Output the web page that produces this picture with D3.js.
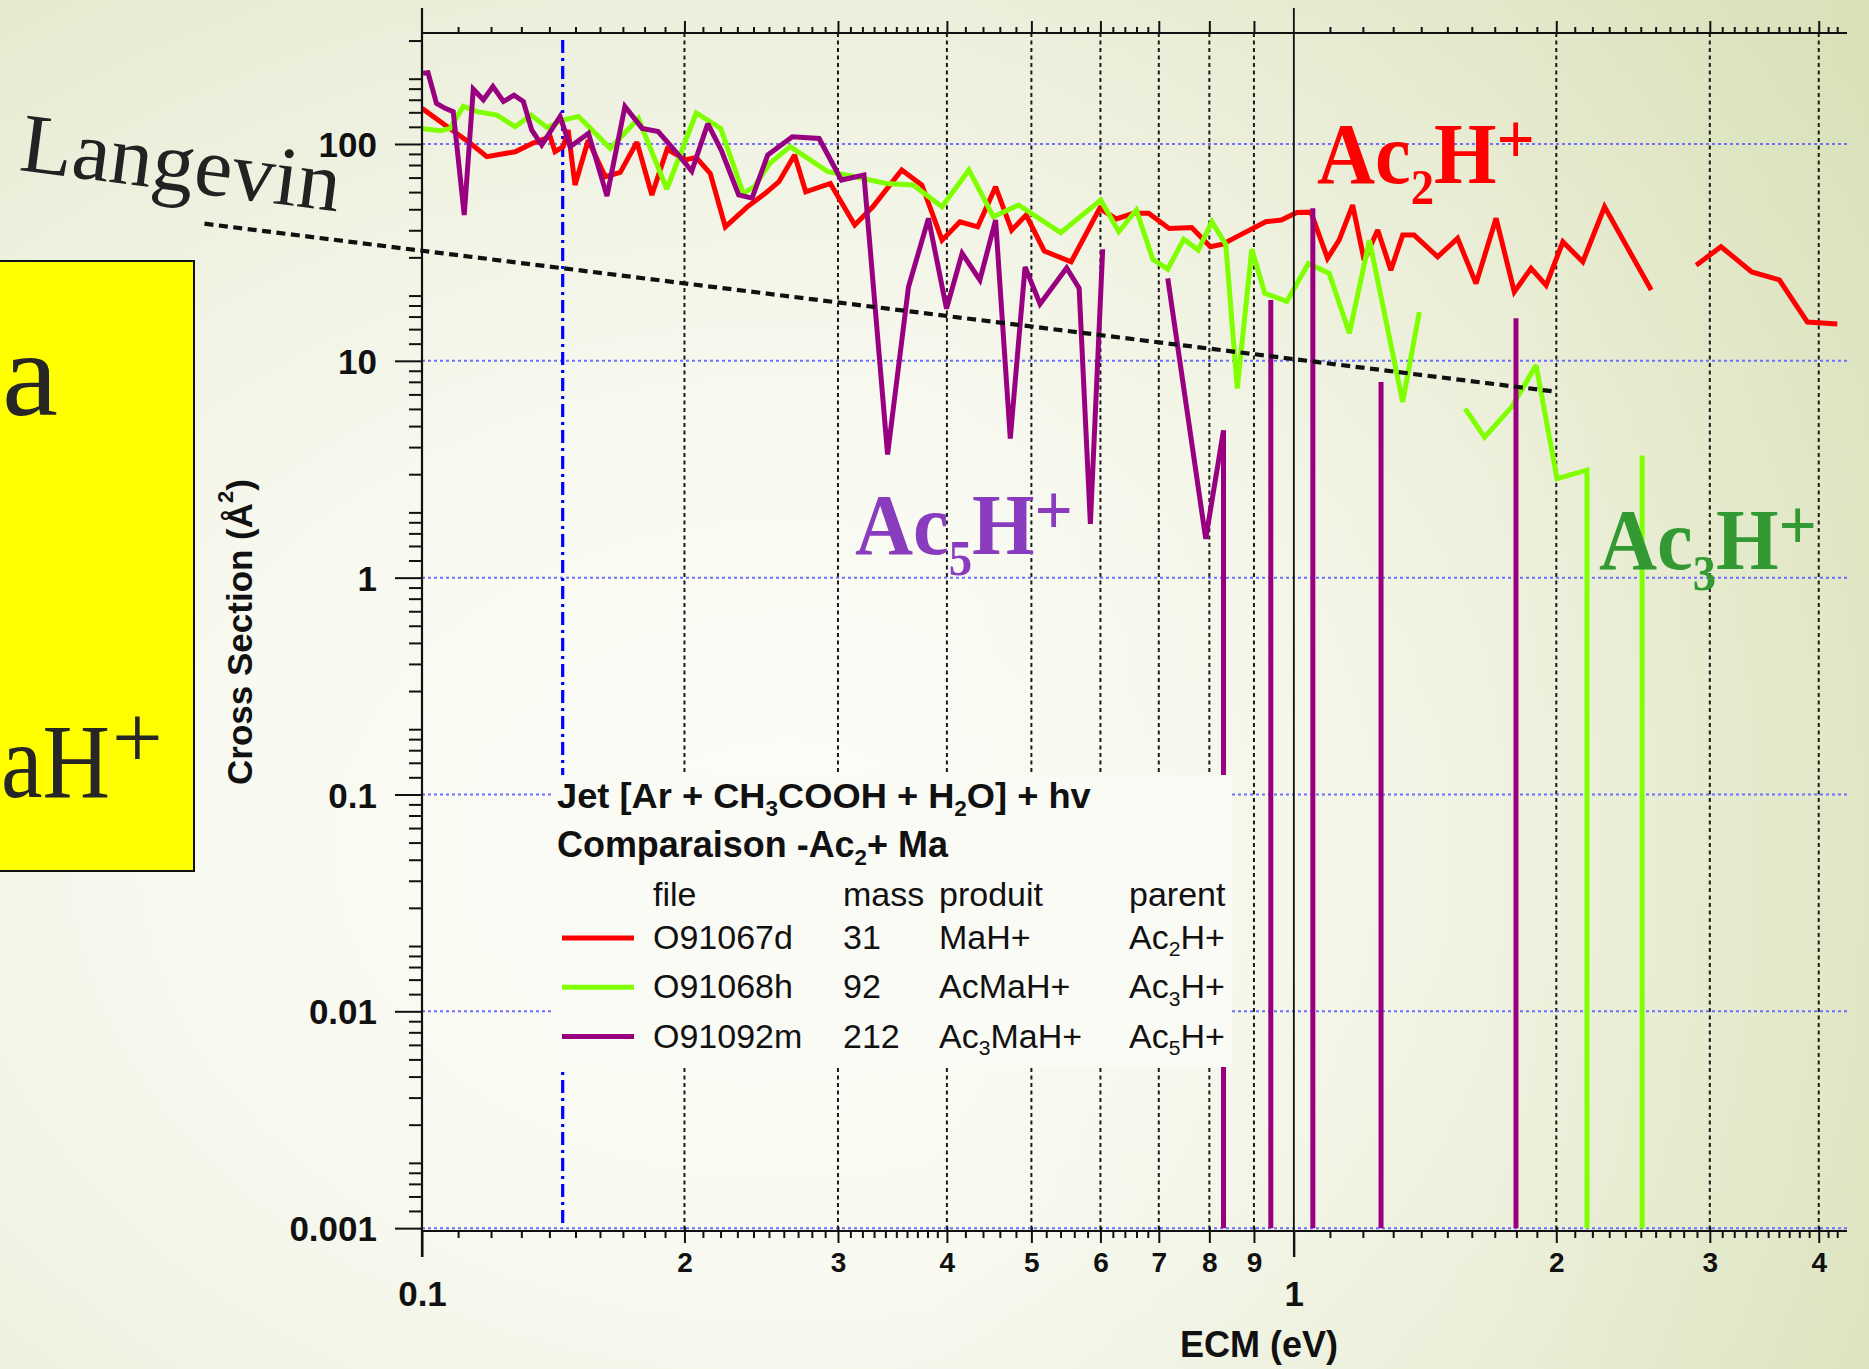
<!DOCTYPE html>
<html>
<head>
<meta charset="utf-8">
<script src="https://cdn.jsdelivr.net/npm/d3@7"></script>
<style>
  html, body { margin: 0; padding: 0; overflow: hidden; background: #f4f6ea; }
  svg { display: block; }
  .sans { font-family: "Liberation Sans", Arial, Helvetica, sans-serif; }
  .serif { font-family: "Liberation Serif", "Times New Roman", serif; }
</style>
</head>
<body>
<svg id="chart" width="1869" height="1369"></svg>
<script>
// ---- Data: [ECM (eV), cross section (Å²)]; 0 = no signal, null = gap ----
const seriesMaH = [ // O91067d, mass 31, MaH+ from Ac2H+
  [0.1000,146],[0.1049,127],[0.1135,101],[0.1187,87.4],[0.1279,92.1],[0.1341,101],[0.1403,108],
  [0.1421,92.1],[0.1452,97.2],[0.1471,116],[0.1498,64.7],[0.1551,104],[0.1623,70.6],[0.1688,73.9],
  [0.1764,102],[0.1835,58.2],[0.1911,94.8],[0.2003,84.4],[0.2063,86.6],[0.2141,73.2],[0.2228,41.5],
  [0.2361,51.3],[0.2476,59.2],[0.2567,67.0],[0.2675,89.0],[0.2755,60.2],[0.2940,65.8],[0.3136,42.3],
  [0.3289,51.3],[0.3550,75.9],[0.3744,64.7],[0.3949,36.0],[0.4140,43.8],[0.4340,41.5],[0.4549,63.5],
  [0.4746,40.1],[0.4931,47.0],[0.5173,32.1],[0.5553,28.6],[0.5988,50.5],[0.6255,45.1],[0.6551,47.9],
  [0.6815,47.9],[0.7195,40.8],[0.7636,41.2],[0.8021,33.6],[0.8289,34.5],[0.8715,38.4],[0.9287,43.8],
  [0.9674,44.6],[1.008,48.3],[1.046,48.5],[1.093,29.7],[1.127,36.0],[1.168,52.3],[1.204,29.1],
  [1.248,40.1],[1.292,26.2],[1.333,38.0],[1.374,38.0],[1.462,30.2],[1.541,36.7],[1.618,22.7],
  [1.706,45.4],[1.790,20.8],[1.871,26.7],[1.947,22.3],[2.035,35.4],[2.145,28.6],[2.272,51.3],
  [2.570,21.2],[2.73,null],[2.894,27.6],[3.090,33.6],[3.351,25.7],[3.605,23.6],[3.882,15.1],[4.201,14.8]
];
const seriesAcMaH = [ // O91068h, mass 92, AcMaH+ from Ac3H+
  [0.1000,118],[0.1049,115],[0.1077,118],[0.1115,149],[0.1156,141],[0.1219,136],[0.1279,120],
  [0.1334,136],[0.1392,119],[0.1452,129],[0.1512,134],[0.1644,95.5],[0.1771,131],[0.1909,62.0],
  [0.2063,139],[0.2201,118],[0.2336,59.2],[0.2405,63.5],[0.2506,81.5],[0.2644,97.2],[0.2922,74.5],
  [0.3136,70.6],[0.3407,65.8],[0.3658,64.7],[0.3949,51.3],[0.4239,75.9],[0.4523,46.2],[0.4834,52.3],
  [0.5402,39.0],[0.6004,55.1],[0.6299,39.4],[0.6597,49.6],[0.6890,29.4],[0.7168,26.5],[0.7477,36.4],
  [0.7770,32.4],[0.8052,43.8],[0.8354,34.5],[0.8612,7.45],[0.8949,32.7],[0.9261,20.5],[0.9817,18.8],
  [1.039,28.1],[1.098,25.3],[1.158,13.4],[1.221,36.0],[1.333,6.46],[1.393,16.8],[1.48,null],
  [1.572,6.02],[1.655,4.44],[1.780,6.17],[1.896,9.54],[2.004,2.86],[2.169,3.13],[2.33,0],
  [2.509,3.66],[2.65,0]
];
const seriesAc3MaH = [ // O91092m, mass 212, Ac3MaH+ from Ac5H+
  [0.1003,212],[0.1016,213],[0.1039,154],[0.1063,146],[0.1086,141],[0.1118,47.0],[0.1145,179],
  [0.1176,160],[0.1206,184],[0.1240,157],[0.1275,168],[0.1307,157],[0.1336,116],[0.1372,98.9],
  [0.1440,134],[0.1479,97.2],[0.1552,112],[0.1630,57.5],[0.1709,149],[0.1789,118],[0.1866,114],
  [0.1952,92.8],[0.2039,75.0],[0.2127,124],[0.2204,93.8],[0.2308,58.2],[0.2391,56.3],[0.2492,89.0],
  [0.2659,108],[0.2854,106],[0.3027,68.2],[0.3213,71.9],[0.3420,3.70],[0.3614,21.9],[0.3810,45.4],
  [0.3996,17.4],[0.4164,31.3],[0.4364,23.6],[0.4549,44.6],[0.4729,4.38],[0.4917,27.1],[0.5116,18.3],
  [0.5488,26.8],[0.5672,21.6],[0.5843,1.77],[0.6036,32.7],[0.66,null],[0.7168,24.0],[0.7924,1.51],
  [0.8305,4.78],[0.88,0],[0.9410,19.1],[1.00,0],[1.0515,50.5],[1.15,0],[1.259,7.99],[1.50,0],
  [1.798,15.7],[1.90,0]
];
// Langevin capture cross section (end points of the straight log-log line)
const langevin = [[0.0563,42.9],[2.0,7.2]];
// marked energy (dash-dot line)
const markerE = 0.145;

// ---- Axis ticks ----
const xDecadeTicks = [0.1, 1];
const xDecadeLabels = ["0.1", "1"];
const xLabeledTicks = [0.2,0.3,0.4,0.5,0.6,0.7,0.8,0.9,2,3,4];
const xLabeledText = ["2","3","4","5","6","7","8","9","2","3","4"];
const xSmallTicks = [0.11,0.12,0.13,0.14,0.15,0.16,0.17,0.18,0.19,
  0.21,0.22,0.23,0.24,0.25,0.26,0.27,0.28,0.29,0.31,0.32,0.33,0.34,0.35,0.36,0.37,0.38,0.39,
  0.42,0.44,0.46,0.48,0.52,0.54,0.56,0.58,0.62,0.64,0.66,0.68,
  1.1,1.2,1.3,1.4,1.5,1.6,1.7,1.8,1.9,2.1,2.2,2.3,2.4,2.5,2.6,2.7,2.8,2.9,
  3.1,3.2,3.3,3.4,3.5,3.6,3.7,3.8,3.9,4.1,4.2];
const yMajorTicks = [0.001, 0.01, 0.1, 1, 10, 100];
const yMajorLabels = ["0.001","0.01","0.1","1","10","100"];
const yMinorSteps = [1.2,1.4,1.6,1.8,2,3,4,5,6,7,8,9];

// ---- Legend rows ----
const legendFiles = ["O91067d","O91068h","O91092m"];
const legendMass = ["31","92","212"];
const legendProduct = [["MaH+"],["AcMaH+"],["Ac","3","MaH+"]];
const legendParent = [["Ac","2","H+"],["Ac","3","H+"],["Ac","5","H+"]];
const seriesColors = ["#ff0000", "#80ff00", "#990080"];

// ---- Layout ----
const W = 1869, H = 1369;
const P = { left: 422, right: 1847, top: 33, bottom: 1231 };
const FLOOR = 0.001;

const x = d3.scaleLog().domain([0.1, 4.31]).range([P.left, P.right]);
const y = d3.scaleLog().domain([0.00097, 325]).range([P.bottom, P.top]);

const svg = d3.select("#chart");
const defs = svg.append("defs");

// page background
const rg = defs.append("radialGradient").attr("id", "bg")
  .attr("cx", 0.42).attr("cy", 0.62).attr("r", 0.8);
[[0, "#fdfdf9"], [0.4, "#f8f9f0"], [0.75, "#edf0dd"], [1, "#e2e8cb"]]
  .forEach(([o, c]) => rg.append("stop").attr("offset", o).attr("stop-color", c));
const lg = defs.append("linearGradient").attr("id", "bgRight")
  .attr("x1", 0).attr("x2", 1).attr("y1", 0).attr("y2", 0);
[[0, "rgba(205,216,160,0)"], [0.5, "rgba(205,216,160,0)"], [0.8, "rgba(205,216,160,0.15)"], [1, "rgba(205,216,160,0.4)"]]
  .forEach(([o, c]) => lg.append("stop").attr("offset", o).attr("stop-color", c));
svg.append("rect").attr("width", W).attr("height", H).attr("fill", "url(#bg)");
svg.append("rect").attr("width", W).attr("height", H).attr("fill", "url(#bgRight)");

defs.append("clipPath").attr("id", "plotClip").append("rect")
  .attr("x", P.left).attr("y", P.top).attr("width", P.right - P.left).attr("height", P.bottom - P.top);

// ---- Grid ----
const grid = svg.append("g");
grid.selectAll("line.vg").data(xLabeledTicks).join("line")
  .attr("x1", d => x(d)).attr("x2", d => x(d)).attr("y1", P.top).attr("y2", P.bottom)
  .attr("stroke", "#1a1a1a").attr("stroke-width", 2).attr("stroke-dasharray", "4,3.5");
grid.selectAll("line.hg").data(yMajorTicks).join("line")
  .attr("x1", P.left).attr("x2", P.right).attr("y1", d => y(d)).attr("y2", d => y(d))
  .attr("stroke", "#6e6eff").attr("stroke-width", 2).attr("stroke-dasharray", "3,3");

// marked energy
svg.append("line")
  .attr("x1", x(markerE)).attr("x2", x(markerE)).attr("y1", P.top + 7).attr("y2", y(FLOOR))
  .attr("stroke", "#0000ff").attr("stroke-width", 3.2).attr("stroke-dasharray", "13,5,3,5");

// ---- Data lines ----
function expand(data) {
  const out = [];
  data.forEach((d, i) => {
    const [e, s] = d;
    if (s === null || s === 0) { out.push(null); return; }
    const prev = data[i - 1], next = data[i + 1];
    if (prev && prev[1] === 0) out.push([e, FLOOR]);
    out.push([e, s]);
    if (next && next[1] === 0) out.push([e, FLOOR]);
  });
  return out;
}
const line = d3.line().defined(d => d !== null).x(d => x(d[0])).y(d => y(d[1]));
const dataG = svg.append("g").attr("clip-path", "url(#plotClip)");
[seriesMaH, seriesAcMaH, seriesAc3MaH].forEach((s, i) => {
  dataG.append("path").attr("d", line(expand(s)))
    .attr("fill", "none").attr("stroke", seriesColors[i]).attr("stroke-width", 5)
    .attr("stroke-linejoin", "miter").attr("stroke-miterlimit", 2.5);
});

// ---- Axes ----
function strip(g) { g.select(".domain").remove(); return g; }
const axisStyle = g => g.selectAll("line").attr("stroke", "#111").attr("stroke-width", 2);

// left
const gl = svg.append("g").attr("transform", `translate(${P.left},0)`);
gl.append("g").call(d3.axisLeft(y).tickValues(yMajorTicks).tickSize(27).tickPadding(18)
  .tickFormat((d, i) => yMajorLabels[i])).call(strip).call(axisStyle)
  .selectAll("text").attr("class", "sans").attr("font-size", 35).attr("font-weight", "bold")
  .attr("fill", "#111").attr("dy", "0.36em");
const yMinorTicks = [];
yMajorTicks.forEach(m => yMinorSteps.forEach(s => { const v = +(m * s).toPrecision(3); if (v <= 325) yMinorTicks.push(v); }));
gl.append("g").call(d3.axisLeft(y).tickValues(yMinorTicks).tickSize(13).tickFormat(""))
  .call(strip).call(axisStyle);

// bottom
const gb = svg.append("g").attr("transform", `translate(0,${P.bottom})`);
gb.append("g").call(d3.axisBottom(x).tickValues(xSmallTicks).tickSize(7).tickFormat(""))
  .call(strip).call(axisStyle);
const gbl = gb.append("g").call(d3.axisBottom(x).tickValues(xLabeledTicks).tickSize(12)
  .tickFormat((d, i) => xLabeledText[i])).call(strip).call(axisStyle);
gbl.selectAll("line").attr("y1", -4);
gbl.selectAll("text").attr("class", "sans").attr("font-size", 28).attr("font-weight", "bold")
  .attr("fill", "#111").attr("y", 31).attr("dy", "0.36em");
const gbd = gb.append("g").call(d3.axisBottom(x).tickValues(xDecadeTicks).tickSize(26)
  .tickFormat((d, i) => xDecadeLabels[i])).call(strip).call(axisStyle);
gbd.selectAll("text").attr("class", "sans").attr("font-size", 35).attr("font-weight", "bold")
  .attr("fill", "#111").attr("y", 62).attr("dy", "0.36em");

// top
const gt = svg.append("g").attr("transform", `translate(0,${P.top})`);
gt.append("g").call(d3.axisTop(x).tickValues(xSmallTicks).tickSize(6).tickFormat(""))
  .call(strip).call(axisStyle);
gt.append("g").call(d3.axisTop(x).tickValues(xLabeledTicks).tickSize(12).tickFormat(""))
  .call(strip).call(axisStyle);

// axis lines
svg.append("line").attr("x1", P.left).attr("x2", P.left).attr("y1", 8).attr("y2", 1257)
  .attr("stroke", "#111").attr("stroke-width", 2.2);
svg.append("line").attr("x1", x(1)).attr("x2", x(1)).attr("y1", 8).attr("y2", 1257)
  .attr("stroke", "#111").attr("stroke-width", 1.8);
svg.append("line").attr("x1", P.left).attr("x2", P.right).attr("y1", P.top).attr("y2", P.top)
  .attr("stroke", "#111").attr("stroke-width", 2.2);
svg.append("line").attr("x1", P.left).attr("x2", P.right).attr("y1", P.bottom).attr("y2", P.bottom)
  .attr("stroke", "#111").attr("stroke-width", 2.2);

// axis titles
svg.append("text").attr("class", "sans").attr("font-size", 35).attr("font-weight", "bold")
  .attr("fill", "#111").attr("text-anchor", "middle")
  .attr("transform", "translate(252,632) rotate(-90)")
  .call(t => {
    t.append("tspan").text("Cross Section (Å");
    t.append("tspan").attr("font-size", 22).attr("dy", -19).text("2");
    t.append("tspan").attr("dy", 19).text(")");
  });
svg.append("text").attr("class", "sans").attr("font-size", 36).attr("font-weight", "bold")
  .attr("fill", "#111").attr("text-anchor", "middle").attr("x", 1259).attr("y", 1357)
  .text("ECM (eV)");

// ---- Legend ----
const leg = svg.append("g");
leg.append("rect").attr("x", 551).attr("y", 775).attr("width", 681).attr("height", 292)
  .attr("fill", "#fbfbf6");
function fitWidth(sel, target) {
  const w = sel.node().getBBox().width;
  const x0 = +sel.attr("x") || 0;
  const k = target / w;
  sel.attr("transform", `translate(${x0 * (1 - k)},0) scale(${k},1)`);
}
function subText(parent, parts, xPos, yPos, size, weight) {
  const t = parent.append("text").attr("class", "sans").attr("x", xPos).attr("y", yPos)
    .attr("font-size", size).attr("font-weight", weight).attr("fill", "#111");
  parts.forEach((p, i) => {
    if (i % 2 === 1) t.append("tspan").attr("font-size", size * 0.62).attr("dy", size * 0.22).text(p);
    else t.append("tspan").attr("dy", i ? -size * 0.22 : 0).text(p);
  });
  return t;
}
fitWidth(subText(leg, ["Jet [Ar + CH", "3", "COOH + H", "2", "O] + hv"], 557, 808, 36, "bold"), 534);
fitWidth(subText(leg, ["Comparaison -Ac", "2", "+ Ma"], 557, 857, 36, "bold"), 392);
const colX = [653, 843, 939, 1129];
["file", "mass", "produit", "parent"].forEach((h, i) => {
  leg.append("text").attr("class", "sans").attr("x", colX[i]).attr("y", 906)
    .attr("font-size", 34).attr("fill", "#111").text(h);
});
legendFiles.forEach((f, i) => {
  const yy = 949 + i * 49.3;
  leg.append("line").attr("x1", 562).attr("x2", 634).attr("y1", yy - 11).attr("y2", yy - 11)
    .attr("stroke", seriesColors[i]).attr("stroke-width", 5);
  subText(leg, [f], colX[0], yy, 34, "normal");
  subText(leg, [legendMass[i]], colX[1], yy, 34, "normal");
  subText(leg, legendProduct[i], colX[2], yy, 34, "normal");
  subText(leg, legendParent[i], colX[3], yy, 34, "normal");
});

// ---- Langevin line and label ----
svg.append("path").attr("d", d3.line().x(d => x(d[0])).y(d => y(d[1]))(langevin))
  .attr("fill", "none").attr("stroke", "#111").attr("stroke-width", 4.2)
  .attr("stroke-dasharray", "9,5.5");
const lgG = svg.append("g").attr("transform", "translate(18,170) rotate(7.4)");
const lgT = lgG.append("text").attr("class", "serif").attr("x", 0).attr("y", 0)
  .attr("font-size", 84).attr("fill", "#222").text("Langevin");
fitWidth(lgT, 322);

// ---- Parent ion labels ----
function ionLabel(xl, base, n, color, width) {
  const t = svg.append("text").attr("class", "serif").attr("x", xl).attr("y", base)
    .attr("font-size", 86).attr("font-weight", "bold").attr("fill", color);
  t.append("tspan").text("Ac");
  t.append("tspan").attr("font-size", 50).attr("dy", 21).text(n);
  t.append("tspan").attr("dy", -21).text("H");
  t.append("tspan").attr("font-size", 72).attr("dy", -20).text("+");
  fitWidth(t, width);
}
ionLabel(1317, 183, "2", "#ff0000", 218);
ionLabel(855, 554, "5", "#8a3cbf", 218);
ionLabel(1599, 569, "3", "#339933", 218);

// ---- Reaction box ----
svg.append("rect").attr("x", -3).attr("y", 261).attr("width", 197).attr("height", 610)
  .attr("fill", "#ffff00").attr("stroke", "#111").attr("stroke-width", 2);
const boxA = svg.append("text").attr("class", "serif").attr("x", 2).attr("y", 415)
  .attr("font-size", 120).attr("fill", "#262626").text("a");
fitWidth(boxA, 56);
const boxT = svg.append("text").attr("class", "serif").attr("x", 1).attr("y", 797)
  .attr("font-size", 106).attr("fill", "#262626").text("aH");
fitWidth(boxT, 109);
svg.append("text").attr("class", "serif").attr("x", 112).attr("y", 768)
  .attr("font-size", 90).attr("fill", "#262626").text("+");
</script>
</body>
</html>
